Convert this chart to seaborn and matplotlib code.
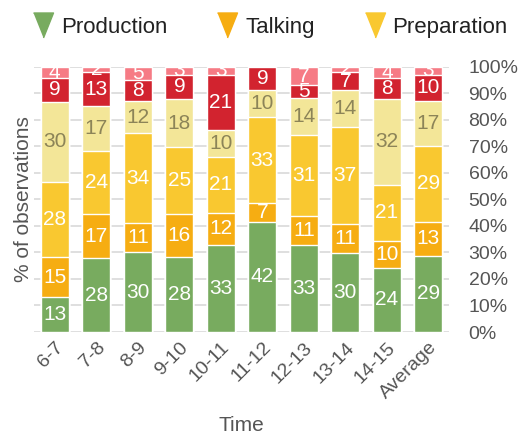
import matplotlib
matplotlib.use("Agg")
import matplotlib.pyplot as plt
import numpy as np
import pandas as pd
import seaborn as sns
from matplotlib.lines import Line2D

# values (% of observations per hour)
times = ["6-7", "7-8", "8-9", "9-10", "10-11", "11-12", "12-13", "13-14", "14-15", "Average"]
production = [13, 28, 30, 28, 33, 42, 33, 30, 24, 29]
talking = [15, 17, 11, 16, 12, 7, 11, 11, 10, 13]
preparation = [28, 24, 34, 25, 21, 33, 31, 37, 21, 29]
cat4 = [30, 17, 12, 18, 10, 10, 14, 14, 32, 17]
cat5 = [9, 13, 8, 9, 21, 9, 5, 7, 8, 10]
cat6 = [4, 2, 5, 3, 3, 0, 7, 2, 4, 3]

series = [production, talking, preparation, cat4, cat5, cat6]
colors = ["#78ab5f", "#f6ad12", "#f9c830", "#f3e698", "#d2232f", "#f67b85"]
text_colors = ["white", "white", "white", "#8c8458", "white", "white"]

sns.set_style("white")
plt.rcParams["font.family"] = ["Liberation Sans", "DejaVu Sans"]

vals = np.array(series, dtype=float)
totals = vals.sum(axis=0)
pct = vals / totals * 100
cum = np.cumsum(pct, axis=0)

fig = plt.figure(figsize=(5.24, 4.34), dpi=100)
ax = fig.add_axes([0.065, 0.235, 0.792, 0.611])

# draw from the top layer down so each lower layer sits over the one above
for i in range(len(series) - 1, -1, -1):
    df = pd.DataFrame({"time": times, "value": cum[i]})
    sns.barplot(data=df, x="time", y="value", color=colors[i], width=0.67,
                saturation=1, ax=ax, zorder=2)

# segment labels
for i in range(len(series)):
    for j in range(len(times)):
        if series[i][j] == 0:
            continue
        mid = cum[i][j] - pct[i][j] / 2
        ax.text(j, mid, str(series[i][j]), ha="center", va="center",
                color=text_colors[i], fontsize=15, zorder=3)

ax.set_ylim(0, 100)
ax.set_xlim(-0.5, len(times) - 0.5)
ax.set_yticks(np.arange(0, 101, 10))
ax.set_yticklabels([f"{v}%" for v in range(0, 101, 10)], fontsize=14, color="#555555")
ax.yaxis.tick_right()
ax.tick_params(axis="y", length=0, pad=14)
ax.tick_params(axis="x", length=0, pad=5)
ax.set_xticks(range(len(times)))
ax.set_xticklabels(times, rotation=45, ha="right", rotation_mode="anchor",
                   fontsize=14, color="#555555")
ax.grid(axis="y", color="#d9d9d9", linewidth=1.2, zorder=0)
ax.set_axisbelow(True)
for s in ax.spines.values():
    s.set_visible(False)

ax.set_ylabel("% of observations", fontsize=15, color="#555555", labelpad=1)
ax.set_xlabel("Time", fontsize=15, color="#555555", labelpad=10)

tri = [(-0.4, 0.5), (0.4, 0.5), (0, -0.5)]
handles = [Line2D([], [], marker=tri, linestyle="", markersize=18, color=c)
           for c in colors[:3]]
fig.legend(handles, ["Production", "Talking", "Preparation"], ncol=3,
           loc="center left", bbox_to_anchor=(0.061, 0.936), frameon=False,
           fontsize=16, handletextpad=0.3, handlelength=1.0,
           columnspacing=2.2, borderpad=0, borderaxespad=0,
           labelcolor="#222222")

fig.savefig("out.png", dpi=100)
